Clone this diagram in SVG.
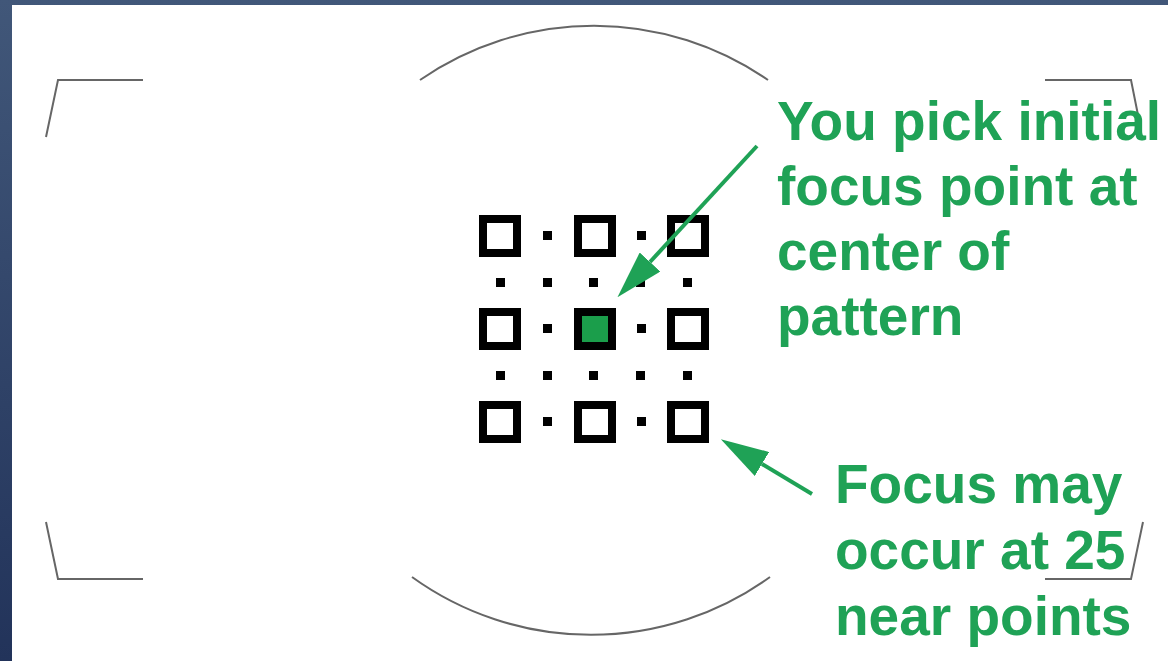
<svg xmlns="http://www.w3.org/2000/svg" width="1168" height="661" viewBox="0 0 1168 661">
<defs>
<linearGradient id="bg" x1="0" y1="0" x2="0" y2="1">
<stop offset="0" stop-color="#415779"/>
<stop offset="1" stop-color="#22335a"/>
</linearGradient>
<marker id="head" viewBox="0 0 48 28" refX="0" refY="14" markerWidth="48" markerHeight="28" markerUnits="userSpaceOnUse" orient="auto">
<path d="M0,0 L48,14 L0,28 z" fill="#1fa256"/>
</marker>
<style>
.frame{fill:none;stroke:#666;stroke-width:2}
.sq{fill:#fff;stroke:#000;stroke-width:8}
.dot{fill:#000}
.lbl{font-family:"Liberation Sans",Arial,sans-serif;font-weight:bold;font-size:55px;fill:#1fa256}
.arrow{stroke:#1fa256;stroke-width:4;fill:none}
</style>
</defs>
<rect width="1168" height="661" fill="url(#bg)"/>
<rect x="12" y="5" width="1156" height="656" fill="#fff"/>

<g id="viewfinder">
<path class="frame" d="M420,80 A306,306 0 0 1 768,80"/>
<path class="frame" d="M412,577 A306,306 0 0 0 770,577"/>
<path class="frame" d="M143,80 L58,80 L46,137"/>
<path class="frame" d="M46,522 L58,579 L143,579"/>
<path class="frame" d="M1045,80 L1131,80 L1139,120"/>
<path class="frame" d="M1045,579 L1131,579 L1143,522"/>
</g>

<g id="grid">
<rect class="sq" x="483" y="219" width="34" height="34"/>
<rect class="sq" x="578" y="219" width="34" height="34"/>
<rect class="sq" x="671" y="219" width="34" height="34"/>
<rect class="sq" x="483" y="312" width="34" height="34"/>
<rect class="sq" x="578" y="312" width="34" height="34" style="fill:#1b9e4b"/>
<rect class="sq" x="671" y="312" width="34" height="34"/>
<rect class="sq" x="483" y="405" width="34" height="34"/>
<rect class="sq" x="578" y="405" width="34" height="34"/>
<rect class="sq" x="671" y="405" width="34" height="34"/>
<rect class="dot" x="543" y="231" width="9" height="9"/>
<rect class="dot" x="637" y="231" width="9" height="9"/>
<rect class="dot" x="543" y="324" width="9" height="9"/>
<rect class="dot" x="637" y="324" width="9" height="9"/>
<rect class="dot" x="543" y="417" width="9" height="9"/>
<rect class="dot" x="637" y="417" width="9" height="9"/>
<rect class="dot" x="496" y="278" width="9" height="9"/>
<rect class="dot" x="543" y="278" width="9" height="9"/>
<rect class="dot" x="589" y="278" width="9" height="9"/>
<rect class="dot" x="636" y="278" width="9" height="9"/>
<rect class="dot" x="683" y="278" width="9" height="9"/>
<rect class="dot" x="496" y="371" width="9" height="9"/>
<rect class="dot" x="543" y="371" width="9" height="9"/>
<rect class="dot" x="589" y="371" width="9" height="9"/>
<rect class="dot" x="636" y="371" width="9" height="9"/>
<rect class="dot" x="683" y="371" width="9" height="9"/>
</g>

<g id="connectors">
<path class="arrow" d="M757,146 L650,262" marker-end="url(#head)"/>
<path class="arrow" d="M812,494 L762,464" marker-end="url(#head)"/>
</g>

<g id="label-pick">
<text class="lbl" x="777" y="140">You pick initial</text>
<text class="lbl" x="777" y="205">focus point at</text>
<text class="lbl" x="777" y="270">center of</text>
<text class="lbl" x="777" y="335">pattern</text>
</g>

<g id="label-focus">
<text class="lbl" x="835" y="503">Focus may</text>
<text class="lbl" x="835" y="569">occur at 25</text>
<text class="lbl" x="835" y="635">near points</text>
</g>
</svg>
